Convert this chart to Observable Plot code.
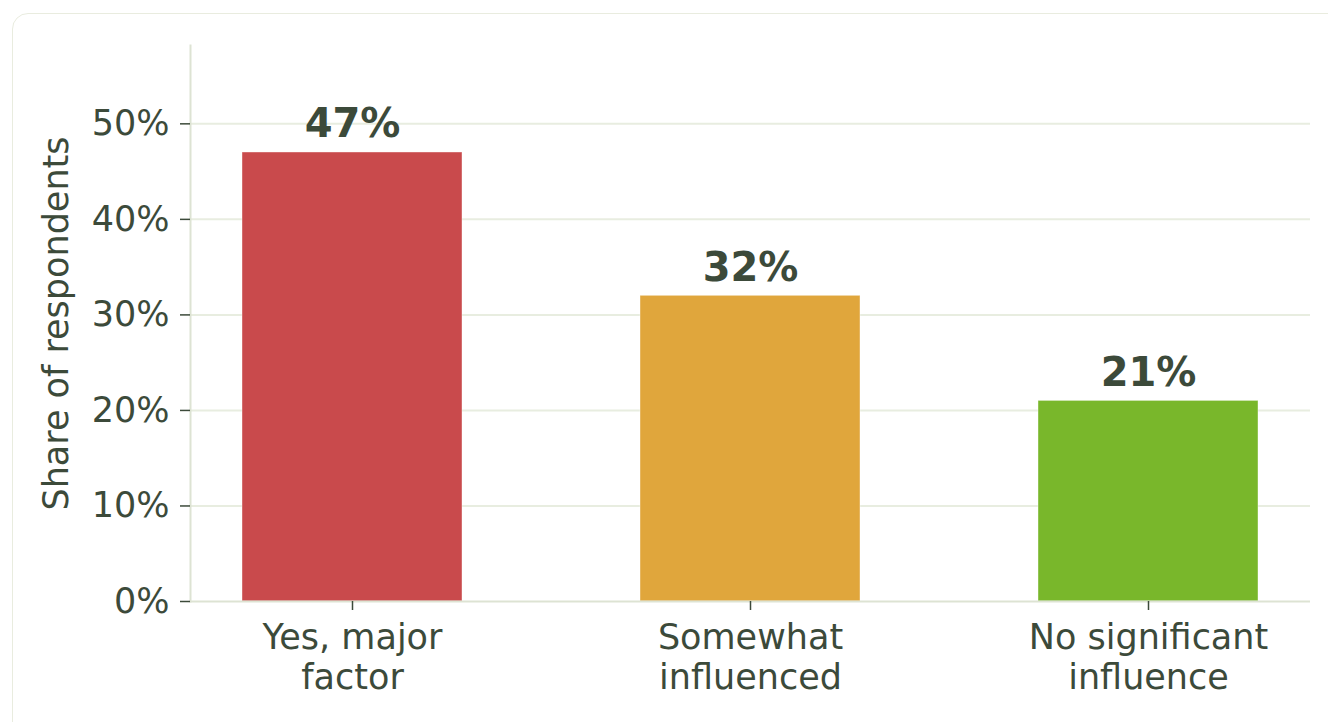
<!DOCTYPE html>
<html>
<head>
<meta charset="utf-8">
<script src="https://cdn.jsdelivr.net/npm/d3@7"></script>
<script src="https://cdn.jsdelivr.net/npm/@observablehq/plot@0.6"></script>
<style>
  html, body { margin: 0; padding: 0; background: #ffffff; overflow: hidden; width: 1328px; height: 722px; }
  #card { position: absolute; left: 12px; top: 13px; width: 1360px; height: 760px; border: 1.5px solid #e9ecdf; border-radius: 16px; box-sizing: border-box; }
  #chart { position: absolute; left: 0; top: 0; }
</style>
</head>
<body>
<div id="card"></div>
<div id="chart"></div>
<script>
const categories = ["Yes, major\nfactor", "Somewhat\ninfluenced", "No significant\ninfluence"];
const shares = [0.47, 0.32, 0.21];
const barColors = ["#c94a4c", "#e0a63c", "#79b72b"];
const yTicks = [0, 0.1, 0.2, 0.3, 0.4, 0.5];
const yTitle = "Share of respondents";

const data = categories.map((c, i) => ({category: c, share: shares[i]}));
const ink = "#3c4a3a";
const fmt = d3.format(".0%");

const chart = Plot.plot({
  width: 1328,
  height: 722,
  marginLeft: 190,
  marginRight: 18,
  marginTop: 45,
  marginBottom: 121,
  style: {fontFamily: "'DejaVu Sans', sans-serif", color: ink, background: "transparent", overflow: "visible"},
  x: {type: "band", domain: categories, paddingInner: 0.448, paddingOuter: 0.129},
  y: {domain: [0, 0.582]},
  color: {domain: categories, range: barColors},
  marks: [
    Plot.gridY(yTicks.filter(d => d > 0), {stroke: "#e8ede0", strokeOpacity: 1, strokeWidth: 2}),
    Plot.barY(data, {x: "category", y: "share", fill: "category", stroke: "#ffffff", strokeWidth: 0.8, strokeOpacity: 0.5}),
    Plot.ruleY([0], {stroke: "#dde3d3", strokeWidth: 2}),
    Plot.frame({anchor: "left", stroke: "#dde3d3", strokeWidth: 2}),
    Plot.axisY({ticks: yTicks, tickFormat: fmt, tickSize: 10, tickPadding: 11, fontSize: 35, stroke: ink, strokeWidth: 1.5,
      label: yTitle, labelAnchor: "center", labelArrow: "none", labelOffset: 147}),
    Plot.axisX({tickSize: 9, tickPadding: 10, fontSize: 35, lineHeight: 1.14, stroke: ink, strokeWidth: 1.5, label: null}),
    Plot.text(data, {x: "category", y: "share", text: d => fmt(d.share), fontSize: 40, fontWeight: "bold", fill: ink, lineAnchor: "bottom", dy: -15})
  ]
});
document.getElementById("chart").appendChild(chart);
</script>
</body>
</html>
